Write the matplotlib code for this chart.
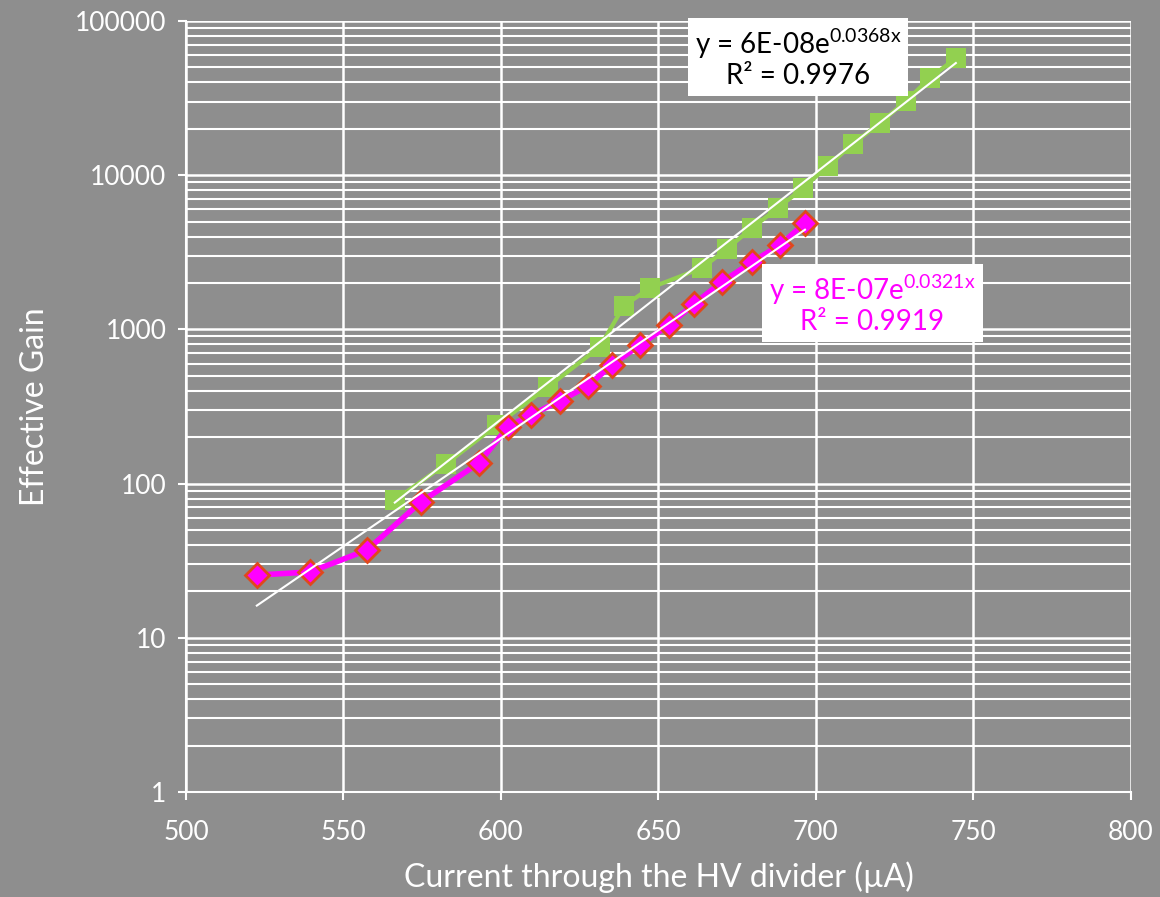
'''
Effective gain vs. current through the HV divider, two data sets with
exponential trend lines (log y axis).
'''

import numpy as np
import matplotlib
matplotlib.use("Agg")
import matplotlib.pyplot as plt
from matplotlib.ticker import LogLocator, FixedLocator, NullFormatter

# Data
green_current = [566.3, 582.5, 598.7, 614.9, 631.4, 639.0, 647.3, 663.8, 671.7,
                 679.7, 687.9, 695.9, 703.8, 711.7, 720.3, 728.6, 736.2, 744.4]
green_gain = [78, 134, 240, 423, 769, 1420, 1855, 2500, 3320,
              4550, 6120, 8260, 11480, 15930, 21800, 30300, 42700, 57500]

pink_current = [522.5, 539.4, 557.5, 574.6, 593.0, 602.2, 609.5, 618.7, 627.6,
                635.2, 644.1, 653.3, 661.3, 670.2, 679.7, 688.6, 696.5]
pink_gain = [25.5, 26.7, 37.1, 76, 136, 233, 279, 343, 430,
             588, 792, 1069, 1462, 2032, 2735, 3525, 4898]

x_ticks = [500, 550, 600, 650, 700, 750, 800]
y_ticks = [1, 10, 100, 1000, 10000, 100000]

green_eq = "y = 6E-08e$^{0.0368x}$\nR² = 0.9976"
pink_eq = "y = 8E-07e$^{0.0321x}$\nR² = 0.9919"

plt.rcParams['font.family'] = ['Lato', 'DejaVu Sans']
plt.rcParams['mathtext.default'] = 'regular'

bg = '#8e8e8e'
green = '#92d050'
magenta = '#ff00ff'
edge = '#e0481c'

fig = plt.figure(figsize=(11.6, 8.97), dpi=100, facecolor=bg)
ax = fig.add_axes([0.1603, 0.1171, 0.975 - 0.1603, 0.9766 - 0.1171])
ax.set_facecolor(bg)

# Series
ax.plot(green_current, green_gain, color=green, linewidth=3, marker='s',
        markersize=14, markerfacecolor=green, markeredgewidth=0, zorder=3)
ax.plot(pink_current, pink_gain, color=magenta, linewidth=4, marker='D',
        markersize=12, markerfacecolor=magenta, markeredgecolor=edge,
        markeredgewidth=2, zorder=4)

# Exponential trend lines (least squares in log space, like Excel)
for xs, ys in [(green_current, green_gain), (pink_current, pink_gain)]:
    xs = np.array(xs)
    b, a = np.polyfit(xs, np.log(ys), 1)
    ends = np.array([xs.min(), xs.max()])
    ax.plot(ends, np.exp(a + b * ends), color='white', linewidth=1.5, zorder=5)

# Axes and grid
ax.set_yscale('log')
ax.set_xlim(500, 800)
ax.set_ylim(1, 100000)
ax.xaxis.set_major_locator(FixedLocator(x_ticks))
ax.yaxis.set_major_locator(FixedLocator(y_ticks))
ax.yaxis.set_minor_locator(LogLocator(base=10, subs=np.arange(2, 10)))
ax.yaxis.set_minor_formatter(NullFormatter())
ax.set_yticklabels([str(v) for v in y_ticks])

ax.grid(True, which='major', axis='both', color='white', linewidth=1.8)
ax.grid(True, which='minor', axis='y', color='white', linewidth=1.5)
ax.set_axisbelow(True)

for side in ['top', 'right']:
    ax.spines[side].set_visible(False)
for side in ['left', 'bottom']:
    ax.spines[side].set_color('white')
    ax.spines[side].set_linewidth(1.5)

ax.tick_params(axis='both', which='major', colors='white', direction='out',
               length=6, width=1.5)
ax.tick_params(axis='y', which='minor', colors='white', length=0)
ax.tick_params(axis='x', labelsize=19, pad=14)
ax.tick_params(axis='y', labelsize=19, pad=8)

ax.set_xlabel("Current through the HV divider (µA)", color='white', fontsize=23, labelpad=12)
ax.set_ylabel("Effective Gain", color='white', fontsize=23, labelpad=18)

# Trend line equations
fig.text(0.688, 0.935, green_eq, color='black', fontsize=20, ha='center', va='center',
         linespacing=1.1, bbox=dict(facecolor='white', edgecolor='none', pad=5))
fig.text(0.752, 0.661, pink_eq, color=magenta, fontsize=20, ha='center', va='center',
         linespacing=1.1, bbox=dict(facecolor='white', edgecolor='none', pad=5))

fig.savefig("out.png", dpi=100, facecolor=bg)
